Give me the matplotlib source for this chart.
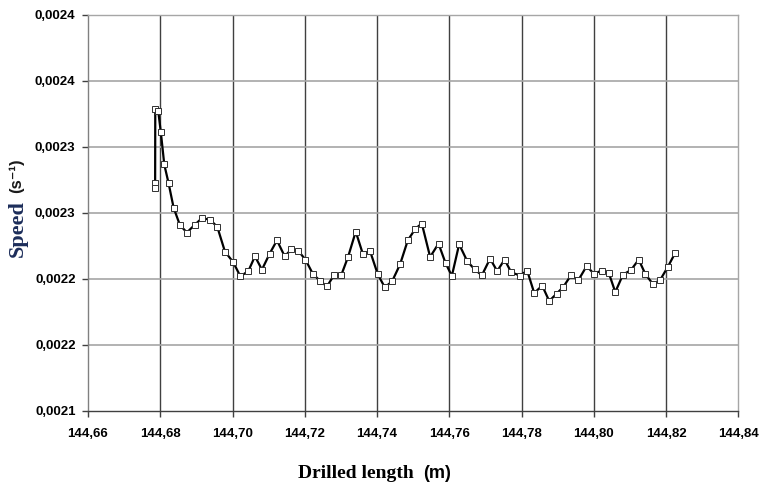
import matplotlib
matplotlib.use("Agg")
import matplotlib.pyplot as plt
from matplotlib.font_manager import FontProperties

# ---- data ----
drilled_length = [
    144.67855, 144.67858, 144.67862, 144.67945, 144.68017, 144.68111, 144.68230,
    144.68369, 144.68543, 144.68737, 144.68956, 144.69158, 144.69386, 144.69580,
    144.69790, 144.70023, 144.70217, 144.70438, 144.70621, 144.70815, 144.71028,
    144.71231, 144.71444, 144.71630, 144.71824, 144.72018, 144.72220, 144.72422,
    144.72616, 144.72810, 144.73015, 144.73198, 144.73411, 144.73605, 144.73807,
    144.74021, 144.74215, 144.74417, 144.74638, 144.74852, 144.75065, 144.75240,
    144.75470, 144.75702, 144.75896, 144.76071, 144.76273, 144.76495, 144.76700,
    144.76902, 144.77129, 144.77326, 144.77531, 144.77714, 144.77955, 144.78157,
    144.78351, 144.78573, 144.78766, 144.78971, 144.79154, 144.79368, 144.79570,
    144.79803, 144.79997, 144.80218, 144.80412, 144.80595, 144.80808, 144.81030,
    144.81243, 144.81426, 144.81640, 144.81842, 144.82047, 144.82249,
]
speed = [
    0.0022728, 0.0022693, 0.0023285, 0.0023270, 0.0023110, 0.0022868, 0.0022726,
    0.0022541, 0.0022409, 0.0022352, 0.0022411, 0.0022462, 0.0022448, 0.0022394,
    0.0022208, 0.0022126, 0.0022020, 0.0022060, 0.0022172, 0.0022071, 0.0022192,
    0.0022293, 0.0022172, 0.0022225, 0.0022212, 0.0022147, 0.0022041, 0.0021985,
    0.0021944, 0.0022030, 0.0022033, 0.0022167, 0.0022359, 0.0022192, 0.0022212,
    0.0022035, 0.0021937, 0.0021982, 0.0022111, 0.0022293, 0.0022382, 0.0022420,
    0.0022167, 0.0022268, 0.0022121, 0.0022023, 0.0022263, 0.0022136, 0.0022073,
    0.0022028, 0.0022154, 0.0022060, 0.0022147, 0.0022051, 0.0022026, 0.0022063,
    0.0021894, 0.0021950, 0.0021833, 0.0021889, 0.0021939, 0.0022028, 0.0021990,
    0.0022098, 0.0022041, 0.0022063, 0.0022048, 0.0021901, 0.0022033, 0.0022068,
    0.0022147, 0.0022038, 0.0021960, 0.0021995, 0.0022091, 0.0022195,
]
x_ticks = [144.66, 144.68, 144.70, 144.72, 144.74, 144.76, 144.78, 144.80, 144.82, 144.84]
x_tick_labels = ["144,66", "144,68", "144,70", "144,72", "144,74", "144,76",
                 "144,78", "144,80", "144,82", "144,84"]
y_ticks = [0.00210, 0.00215, 0.00220, 0.00225, 0.00230, 0.00235, 0.00240]
y_tick_labels = ["0,0021", "0,0022", "0,0022", "0,0023", "0,0023", "0,0024", "0,0024"]

# ---- figure ----
fig = plt.figure(figsize=(7.61, 4.86), dpi=100)
ax = fig.add_axes([88 / 761, (486 - 411) / 486, 650.3 / 761, 396 / 486])

ax.set_xlim(x_ticks[0], x_ticks[-1])
ax.set_ylim(y_ticks[0], y_ticks[-1])

for xv in x_ticks[1:-1]:
    ax.axvline(xv, color="#404040", lw=1.0, zorder=1)
for yv in y_ticks[1:-1]:
    ax.axhline(yv, color="#a6a6a6", lw=1.2, zorder=1)

ax.plot(drilled_length, speed, color="black", lw=1.6, marker="s", ms=4.2,
        mfc="white", mec="#303030", mew=0.7, zorder=3)

ax.set_xticks(x_ticks)
ax.set_xticklabels(x_tick_labels)
ax.set_yticks(y_ticks)
ax.set_yticklabels(y_tick_labels)
tick_fp = FontProperties(family="Liberation Sans", weight="bold", size=9.5)
for lab in ax.get_xticklabels() + ax.get_yticklabels():
    lab.set_fontproperties(tick_fp)
ax.tick_params(axis="both", direction="out", length=4, width=1, color="#404040",
               labelcolor="black")
ax.tick_params(axis="x", pad=8)
ax.tick_params(axis="y", pad=5)

ax.spines["left"].set_color("#808080")
ax.spines["bottom"].set_color("#404040")
ax.spines["top"].set_color("#a6a6a6")
ax.spines["right"].set_color("#a6a6a6")
for s in ax.spines.values():
    s.set_linewidth(1.0)

# axis titles
fig.text(18 / 761, 1 - 229 / 486, "Speed", rotation=90, ha="center", va="center",
         family="Liberation Serif", weight="bold", size=16, color="#1c2d5a")
fig.text(16 / 761, 1 - 176 / 486, "(s\u207b\u00b9)", rotation=90, ha="center",
         va="center", family=["Liberation Sans", "DejaVu Sans"], weight="bold",
         size=12, color="#1a1a1a")
fig.text(355.5 / 761, 1 - 478 / 486, "Drilled length", ha="center", va="baseline",
         family="Liberation Serif", weight="bold", size=14, color="black")
fig.text(437 / 761, 1 - 478 / 486, "(m)", ha="center", va="baseline",
         family="Liberation Sans", weight="bold", size=13, color="black")

fig.savefig("out.png", dpi=100)
